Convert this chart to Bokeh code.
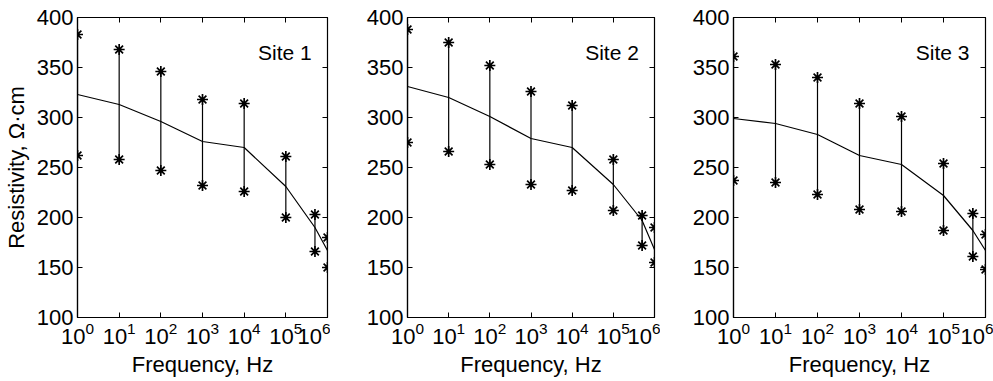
from bokeh.plotting import figure
from bokeh.layouts import row
from bokeh.models import Range1d, FixedTicker, LogAxis, LinearAxis, Label
from bokeh.embed import file_html
from bokeh.resources import INLINE

freq = [1, 10, 100, 1e3, 1e4, 1e5, 5e5, 1e6]
x_ticks = [1, 10, 100, 1e3, 1e4, 1e5, 1e6]
y_ticks = [100, 150, 200, 250, 300, 350, 400]

site_names = ["Site 1", "Site 2", "Site 3"]

site1_mean = [323, 313, 296, 276, 270, 231, 190, 167]
site1_upper = [383, 368, 346, 318, 314, 261, 203, 180]
site1_lower = [262, 258, 247, 232, 226, 200, 166, 150]

site2_mean = [331, 320, 301, 279, 270, 233, 197, 168]
site2_upper = [388, 375, 352, 326, 312, 258, 202, 190]
site2_lower = [275, 266, 253, 233, 227, 207, 172, 155]

site3_mean = [299, 294, 283, 262, 253, 222, 187, 167]
site3_upper = [361, 353, 340, 314, 301, 254, 204, 183]
site3_lower = [237, 235, 223, 208, 206, 187, 161, 148]

FONT = "Liberation Sans"
FS = "22px"


def make_panel(name, mean, upper, lower, show_ylabel, border_left, frame_w, border_right):
    p = figure(x_axis_type="log", x_range=Range1d(1, 1e6), y_range=Range1d(100, 400),
               frame_width=frame_w, frame_height=300,
               min_border_left=border_left, min_border_right=border_right,
               min_border_top=17, min_border_bottom=55,
               output_backend="svg", toolbar_location=None)
    p.grid.visible = False
    p.outline_line_color = "black"
    p.outline_line_width = 1.2
    p.background_fill_color = "white"
    p.border_fill_color = "white"

    for ax in (p.xaxis[0], p.yaxis[0]):
        ax.major_tick_in = 5
        ax.major_tick_out = 0
        ax.minor_tick_in = 0
        ax.minor_tick_out = 0
        ax.axis_line_color = "black"
        ax.axis_line_width = 1.2
        ax.major_label_text_font = FONT
        ax.major_label_text_font_size = FS
        ax.major_label_text_color = "black"
        ax.axis_label_text_font = FONT
        ax.axis_label_text_font_size = FS
        ax.axis_label_text_font_style = "normal"
        ax.axis_label_text_color = "black"
    p.xaxis[0].ticker = FixedTicker(ticks=x_ticks)
    p.yaxis[0].ticker = FixedTicker(ticks=y_ticks)
    p.xaxis[0].major_label_standoff = 4
    p.yaxis[0].major_label_standoff = 4
    p.xaxis[0].axis_label = "Frequency, Hz"
    p.xaxis[0].axis_label_standoff = 5
    if show_ylabel:
        p.yaxis[0].axis_label = "Resistivity, Ω·cm"
        p.yaxis[0].axis_label_standoff = 5

    top = LogAxis(ticker=FixedTicker(ticks=x_ticks))
    right = LinearAxis(ticker=FixedTicker(ticks=y_ticks))
    for ax in (top, right):
        ax.major_tick_in = 5
        ax.major_tick_out = 0
        ax.minor_tick_in = 0
        ax.minor_tick_out = 0
        ax.axis_line_color = None
        ax.major_label_text_font_size = "1px"
        ax.major_label_text_color = None
        ax.major_label_standoff = 0
    p.add_layout(top, "above")
    p.add_layout(right, "right")

    p.line(freq, mean, line_color="black", line_width=1.2)
    p.segment(x0=freq, y0=lower, x1=freq, y1=upper, line_color="black", line_width=1.2)
    p.scatter(freq, upper, marker="asterisk", size=11, line_color="black", line_width=1.7)
    p.scatter(freq, lower, marker="asterisk", size=11, line_color="black", line_width=1.7)

    p.add_layout(Label(x=10 ** 5.62, y=377, text=name, text_align="right",
                       text_baseline="top", text_font=FONT, text_font_size="21px",
                       text_color="black"))
    return p


p1 = make_panel(site_names[0], site1_mean, site1_upper, site1_lower, True, 77, 250, 3)
p2 = make_panel(site_names[1], site2_mean, site2_upper, site2_lower, False, 77, 247, 6)
p3 = make_panel(site_names[2], site3_mean, site3_upper, site3_lower, False, 73, 252, 8)

layout = row(p1, p2, p3, spacing=0)
open("out.html", "w").write(file_html(layout, INLINE))
